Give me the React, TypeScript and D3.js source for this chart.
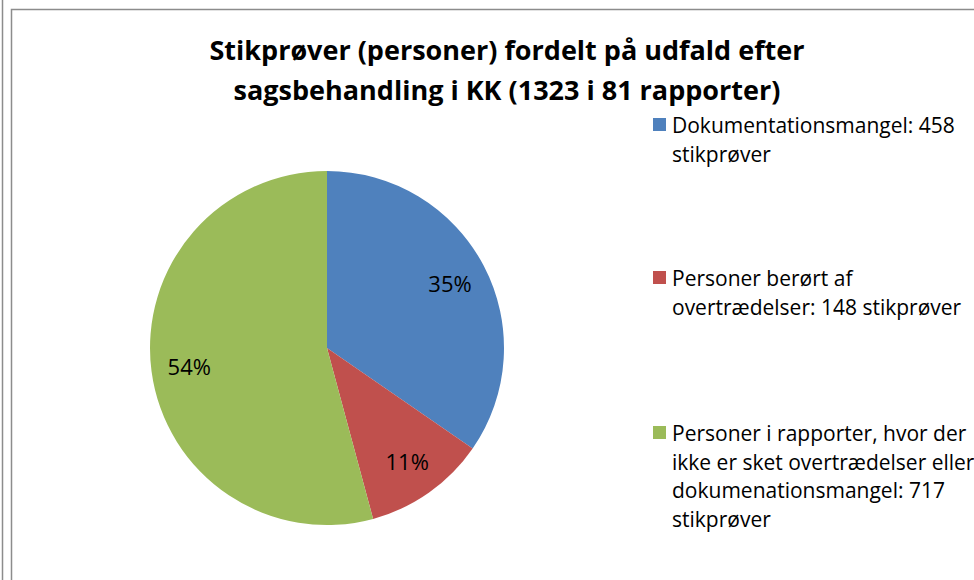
import React from "react";
import * as d3 from "d3";

const categories = [
  "Dokumentationsmangel: 458 stikprøver",
  "Personer berørt af overtrædelser: 148 stikprøver",
  "Personer i rapporter, hvor der ikke er sket overtrædelser eller dokumenationsmangel: 717 stikprøver",
];
const values = [458, 148, 717];
const colors = ["#4F81BD", "#C0504D", "#9BBB59"];
const legendLines = [
  ["Dokumentationsmangel: 458", "stikprøver"],
  ["Personer berørt af", "overtrædelser: 148 stikprøver"],
  ["Personer i rapporter, hvor der", "ikke er sket overtrædelser eller", "dokumenationsmangel: 717", "stikprøver"],
];
const titleLines = [
  "Stikprøver (personer) fordelt på udfald efter",
  "sagsbehandling i KK (1323 i 81 rapporter)",
];

export default function App() {
  const W = 974, H = 580;
  const cx = 327, cy = 348, r = 177;
  const total = d3.sum(values);
  const pie = d3.pie<number>().sort(null).value((d) => d)(values);
  const arc = d3.arc<d3.PieArcDatum<number>>().innerRadius(0).outerRadius(r);
  const labelArc = d3.arc<d3.PieArcDatum<number>>().innerRadius(r * 0.785).outerRadius(r * 0.785);
  const font = "'Open Sans', sans-serif";
  const legendY = [125, 278, 433];
  const lh = 28.5;
  return (
    <svg width={W} height={H} style={{ position: "absolute", left: 0, top: 0 }}>
      <rect width={W} height={H} fill="#fff" />
      <line x1={2.5} y1={0} x2={2.5} y2={H} stroke="#8c8c8c" strokeWidth={1.5} />
      <path d={`M11.5,${H} V9.5 H${W}`} fill="none" stroke="#8c8c8c" strokeWidth={1.5} />
      {titleLines.map((t, i) => (
        <text key={i} x={507} y={60 + i * 40} textAnchor="middle" fontFamily={font} fontWeight="bold" fontSize={27} fill="#000">
          {t}
        </text>
      ))}
      <g transform={`translate(${cx},${cy})`}>
        {pie.map((p, i) => (
          <path key={i} d={arc(p) || ""} fill={colors[i]} />
        ))}
        {pie.map((p, i) => {
          const [x, y] = labelArc.centroid(p);
          return (
            <text key={i} x={x} y={y} textAnchor="middle" dominantBaseline="central" fontFamily={font} fontSize={22} fill="#000">
              {Math.round((values[i] / total) * 100) + "%"}
            </text>
          );
        })}
      </g>
      {legendLines.map((lines, i) => (
        <g key={i}>
          <rect x={653} y={legendY[i] - 7} width={13} height={13} fill={colors[i]} />
          {lines.map((l, j) => (
            <text key={j} x={672} y={legendY[i] + j * lh} dominantBaseline="central" fontFamily={font} fontSize={21} fill="#000">
              {l}
            </text>
          ))}
        </g>
      ))}
    </svg>
  );
}
